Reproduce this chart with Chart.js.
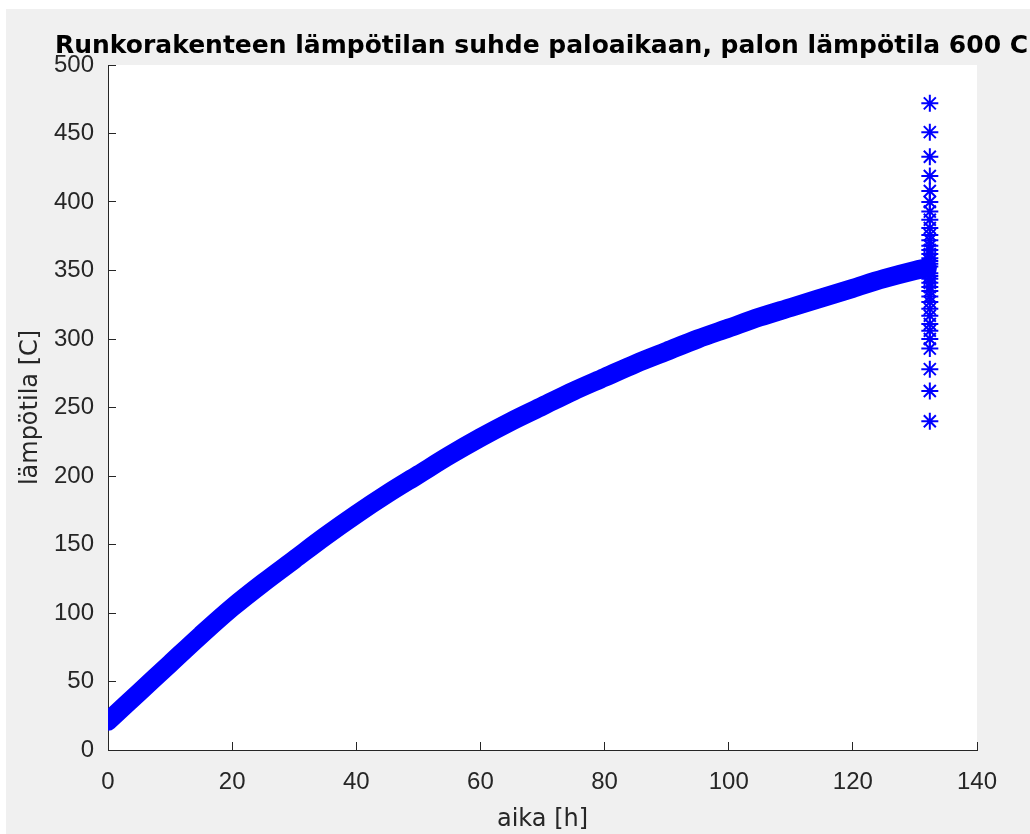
<!DOCTYPE html>
<html>
<head>
<meta charset="utf-8">
<title>Runkorakenteen lämpötila</title>
<script src="https://cdn.jsdelivr.net/npm/chart.js@4"></script>
<style>
	html, body { margin: 0; padding: 0; background: #ffffff; overflow: hidden; }
	#wrap { position: absolute; left: 6px; top: 9px; width: 1024px; height: 825px; background: #f0f0f0; }
</style>
</head>
<body>
<div id="wrap"><canvas id="tempChart" width="1024" height="825"></canvas></div>
<script>
/* ==================== DATA ==================== */

// Heating curve: time [h] and temperature [C]
const hours = [0, 5, 10, 15, 20, 25, 30, 35, 40, 45, 50, 55, 60, 65, 70, 75, 80, 85, 90, 95, 100, 105, 110, 115, 120, 125, 130, 132]
const temps = [21, 42, 63, 84, 104, 122, 139, 156, 172, 187, 201, 215, 228, 240, 251, 262, 272, 282, 291, 300, 308, 316, 323, 330, 337, 344, 350, 352]

// Scattered values at the end of the run
const columnHour = 132.4
const columnTemps = [472, 451, 433, 419, 408, 400, 393, 387, 381, 376, 372, 368, 365, 362, 359, 357, 355, 353, 240, 262, 278, 293, 300, 306, 311, 317, 322, 327, 331, 335, 338, 341, 344, 346, 348]

// Axis ticks
const xTicks = [0, 20, 40, 60, 80, 100, 120, 140]
const yTicks = [0, 50, 100, 150, 200, 250, 300, 350, 400, 450, 500]

const titleText = 'Runkorakenteen lämpötilan suhde paloaikaan, palon lämpötila 600 C'

/* ==================== CHART ==================== */

const axisColor = '#262626'
const blue = '#0000ff'

// White plot area and the left-anchored title
const matlabFrame = {
	id: 'matlabFrame',
	beforeDraw(chart) {
		const { ctx, chartArea: a } = chart
		ctx.save()
		ctx.fillStyle = '#ffffff'
		ctx.fillRect(a.left, a.top, a.right - a.left, a.bottom - a.top)
		ctx.restore()
	},
	afterDraw(chart) {
		const ctx = chart.ctx
		ctx.save()
		ctx.fillStyle = '#000000'
		ctx.font = 'bold 25px "DejaVu Sans"'
		ctx.textAlign = 'left'
		ctx.textBaseline = 'alphabetic'
		ctx.fillText(titleText, 49, 44)
		ctx.restore()
	},
}

const ctx = document.getElementById('tempChart').getContext('2d')
new Chart(ctx, {
	type: 'scatter',
	data: {
		datasets: [
			{
				data: hours.map((h, i) => ({ x: h, y: temps[i] })),
				showLine: true,
				borderColor: blue,
				backgroundColor: blue,
				borderWidth: 19,
				borderCapStyle: 'round',
				borderJoinStyle: 'round',
				cubicInterpolationMode: 'monotone',
				pointRadius: 0,
			},
			{
				data: columnTemps.map(t => ({ x: columnHour, y: t })),
				showLine: false,
				pointStyle: 'star',
				pointRadius: 8.5,
				pointBorderWidth: 2,
				pointBorderColor: blue,
				pointBackgroundColor: blue,
			},
		],
	},
	options: {
		responsive: false,
		animation: false,
		devicePixelRatio: 1,
		layout: {
			padding: { left: 0, top: 56, right: 53, bottom: 0 },
		},
		plugins: {
			legend: { display: false },
			tooltip: { enabled: false },
			title: { display: false },
		},
		scales: {
			x: {
				type: 'linear',
				min: 0,
				max: 140,
				afterBuildTicks: scale => {
					scale.ticks = xTicks.map(v => ({ value: v }))
				},
				afterFit: scale => {
					scale.height = 84
				},
				ticks: {
					color: axisColor,
					padding: 26,
					maxRotation: 0,
					font: { family: '"Liberation Sans", Arial', size: 24, lineHeight: 1.2 },
				},
				grid: {
					drawOnChartArea: false,
					drawTicks: true,
					tickLength: -8,
					color: axisColor,
					lineWidth: 1,
				},
				border: { display: true, color: axisColor, width: 1 },
				title: {
					display: true,
					text: 'aika [h]',
					color: axisColor,
					padding: { top: 0, bottom: 0 },
					font: { family: '"DejaVu Sans"', size: 24, lineHeight: 1.2 },
				},
			},
			y: {
				type: 'linear',
				min: 0,
				max: 500,
				afterBuildTicks: scale => {
					scale.ticks = yTicks.map(v => ({ value: v }))
				},
				afterFit: scale => {
					scale.width = 102
				},
				ticks: {
					color: axisColor,
					padding: 22,
					font: { family: '"Liberation Sans", Arial', size: 24, lineHeight: 1.2 },
				},
				grid: {
					drawOnChartArea: false,
					drawTicks: true,
					tickLength: -8,
					color: axisColor,
					lineWidth: 1,
				},
				border: { display: true, color: axisColor, width: 1 },
				title: {
					display: true,
					text: 'lämpötila [C]',
					color: axisColor,
					padding: { top: 10, bottom: 0 },
					font: { family: '"DejaVu Sans"', size: 24, lineHeight: 1.2 },
				},
			},
		},
	},
	plugins: [matlabFrame],
})
</script>
</body>
</html>
